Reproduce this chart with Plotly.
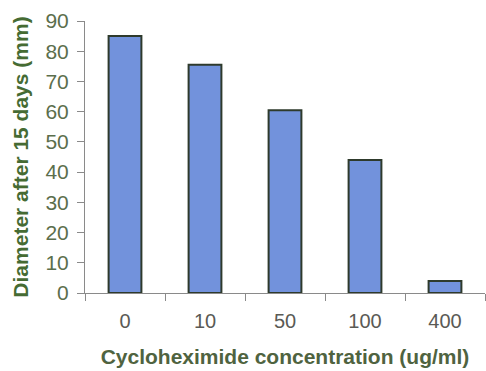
import plotly.graph_objects as go

# Colony diameter after 15 days at each cycloheximide concentration
concentrations = ["0", "10", "50", "100", "400"]
diameters_mm = [85, 75.5, 60.5, 44, 4]

fig = go.Figure(
    go.Bar(
        x=concentrations,
        y=diameters_mm,
        width=0.41,
        marker=dict(color="#7292dc", line=dict(color="#2e3a2c", width=2)),
    )
)

fig.update_layout(
    width=486,
    height=371,
    margin=dict(l=85, r=1, t=21, b=78),
    paper_bgcolor="white",
    plot_bgcolor="white",
    showlegend=False,
    font=dict(family="Liberation Sans, Arial, sans-serif"),
)

fig.update_yaxes(
    range=[0, 90],
    dtick=10,
    showgrid=False,
    zeroline=False,
    showline=True,
    linecolor="#8a8a8a",
    linewidth=1,
    ticks="outside",
    ticklen=7,
    tickcolor="#8a8a8a",
    ticklabelstandoff=4,
    tickfont=dict(size=21, color="#5b6e4c"),
    title=dict(
        text="<b>Diameter after 15 days (mm)</b>",
        font=dict(size=21, color="#456b33"),
        standoff=11,
    ),
)

fig.update_xaxes(
    showgrid=False,
    showline=True,
    linecolor="#8a8a8a",
    linewidth=1,
    ticks="outside",
    tickson="boundaries",
    ticklen=7,
    tickcolor="#8a8a8a",
    ticklabelstandoff=10,
    tickfont=dict(size=20, color="#5a5a55"),
    title=dict(
        text="<b>Cycloheximide concentration (ug/ml)</b>",
        font=dict(size=21, color="#4f6340"),
        standoff=18,
    ),
)

fig.write_html("out.html")
